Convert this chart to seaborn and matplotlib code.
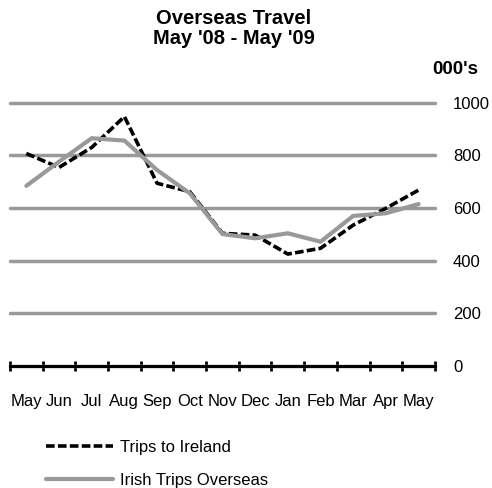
import numpy as np
import pandas as pd
import matplotlib.pyplot as plt
import seaborn as sns

months = ["May", "Jun", "Jul", "Aug", "Sep", "Oct", "Nov", "Dec", "Jan", "Feb", "Mar", "Apr", "May"]
trips_to_ireland = [807, 754, 830, 947, 694, 662, 504, 497, 425, 447, 535, 599, 668]
irish_trips_overseas = [684, 776, 865, 856, 744, 656, 501, 485, 504, 472, 570, 580, 615]
y_ticks = [0, 200, 400, 600, 800, 1000]

sns.set_style("white")
plt.rcParams["font.family"] = ["Liberation Sans", "DejaVu Sans"]
plt.rcParams["text.color"] = "black"
plt.rcParams["xtick.color"] = "black"
plt.rcParams["ytick.color"] = "black"

x = np.arange(len(months))
fig = plt.figure(figsize=(4.92, 4.88), dpi=100)
ax = fig.add_axes([0.0203, 0.25, 0.8637, 0.5396])

sns.lineplot(x=x, y=trips_to_ireland, ax=ax, color="black", linewidth=2.6,
             linestyle=(0, (2.4, 0.9)), label="Trips to Ireland", clip_on=False)
sns.lineplot(x=x, y=irish_trips_overseas, ax=ax, color="#999999", linewidth=3,
             label="Irish Trips Overseas", clip_on=False)

ax.set_xlim(-0.5, len(months) - 0.5)
ax.set_ylim(0, 1000)
ax.set_yticks(y_ticks)
ax.yaxis.tick_right()
ax.yaxis.grid(True, color="#999999", linewidth=2.5)
for gl in ax.get_ygridlines():
    gl.set_clip_on(False)
ax.set_axisbelow(True)
ax.tick_params(axis="y", length=0, pad=13, labelsize=12)

ax.set_xticks(x)
ax.set_xticklabels(months)
ax.set_xticks(np.arange(-0.5, len(months), 1), minor=True)
ax.tick_params(axis="x", which="major", bottom=True, length=0, pad=20, labelsize=12)
ax.tick_params(axis="x", which="minor", bottom=True, direction="inout", length=7, width=2, color="black")

for side in ["top", "left", "right"]:
    ax.spines[side].set_visible(False)
ax.spines["bottom"].set_color("black")
ax.spines["bottom"].set_linewidth(2.2)

fig.text(0.4756, 0.982, "Overseas Travel\nMay '08 - May '09", fontsize=14.5, fontweight="bold",
         ha="center", va="top", linespacing=1.05)
fig.text(0.878, 0.857, "000's", fontsize=13.5, fontweight="bold", ha="left", va="center")

ax.legend(loc="upper left", bbox_to_anchor=(0.05, -0.225), frameon=False,
          handlelength=4.0, labelspacing=1.08, fontsize=12, handletextpad=0.4)

fig.savefig("out.png", dpi=100)
